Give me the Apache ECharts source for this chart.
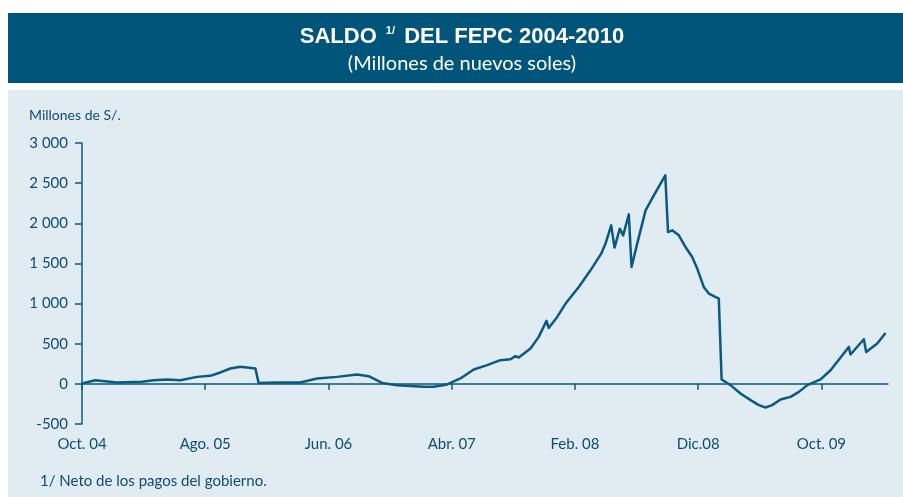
<!DOCTYPE html>
<html>
<head>
<meta charset="utf-8">
<script src="https://cdn.jsdelivr.net/npm/echarts@6/dist/echarts.min.js"></script>
<style>
html,body{margin:0;padding:0;background:#fff;}
#c{width:903px;height:497px;}
</style>
</head>
<body>
<div id="c"></div>
<script>
// months elapsed since Oct. 2004
var months = [0, 1.08, 2.84, 4.87, 5.81, 6.9, 7.98, 9.33, 10.41, 11.23,
  12.04, 12.85, 14.07, 14.33, 15.83, 17.72, 19.07, 20.7, 22.32, 23.26,
  24.35, 25.57, 27.73, 28.54, 29.63, 30.7, 31.79, 32.87, 33.95, 34.76,
  35.17, 35.44, 36.39, 37.06, 37.69, 37.87, 38.56, 39.24, 40.31, 41.26,
  42.13, 42.48, 42.94, 43.21, 43.64, 43.91, 44.37, 44.59, 45.05, 45.73,
  46.4, 47.33, 47.55, 47.89, 48.43, 48.97, 49.51, 49.92, 50.45, 50.86,
  51.67, 51.9, 52.62, 53.43, 54.25, 54.92, 55.46, 56, 56.68, 57.49,
  58.17, 58.85, 59.93, 60.74, 62.22, 62.36, 63.44, 63.63, 64.53, 65.2];
// saldo, millones de S/.
var saldo = [5, 46, 17, 25, 46, 55, 46, 87, 100, 142,
  191, 212, 191, 12, 17, 17, 67, 87, 117, 96,
  12, -16, -37, -37, -7, 67, 179, 233, 295, 307,
  345, 328, 440, 585, 784, 697, 834, 1000, 1207, 1414,
  1622, 1747, 1974, 1697, 1933, 1850, 2111, 1456, 1747, 2161,
  2347, 2596, 1891, 1912, 1850, 1704, 1580, 1436, 1207, 1125,
  1062, 55, -16, -120, -203, -265, -294, -265, -195, -162,
  -100, -16, 55, 170, 460, 366, 556, 398, 503, 634];
var tickLabels = ["Oct. 04", "Ago. 05", "Jun. 06", "Abr. 07", "Feb. 08", "Dic.08", "Oct. 09"];
var tickMonths = [0, 10, 20, 30, 40, 50, 60];

var TXT = '#0f4d6b';
var LINE = '#0a5a80';
var FONT = 'Lato, "Liberation Sans", sans-serif';

var data = months.map(function (m, i) { return [m, saldo[i]]; });

var chart = echarts.init(document.getElementById('c'), null, {renderer: 'canvas'});
chart.setOption({
  backgroundColor: '#ffffff',
  animation: false,
  graphic: [
    {type: 'rect', z: -10, shape: {x: 8, y: 13, width: 895, height: 70}, style: {fill: '#01557b'}},
    {type: 'rect', z: -10, shape: {x: 8, y: 90, width: 895, height: 407}, style: {fill: '#e1ebf2'}},
    {type: 'text', z: 100, x: 462, y: 37, style: {
      text: '{b|SALDO }{s|1/}{b| DEL FEPC 2004-2010}',
      align: 'center', verticalAlign: 'middle',
      rich: {
        b: {fontFamily: '"Liberation Sans", sans-serif', fontWeight: 'bold', fontSize: 22, fill: '#ffffff', lineHeight: 24},
        s: {fontFamily: '"Liberation Sans", sans-serif', fontWeight: 'bold', fontSize: 11, fill: '#ffffff', lineHeight: 24, verticalAlign: 'top', padding: [0, 3, 0, 3]}
      }
    }},
    {type: 'text', z: 100, x: 462, y: 64, style: {
      text: '(Millones de nuevos soles)', align: 'center', verticalAlign: 'middle',
      fontFamily: FONT, fontSize: 20, fill: '#ffffff'
    }},
    {type: 'text', z: 100, x: 29, y: 115, style: {
      text: 'Millones de S/.', align: 'left', verticalAlign: 'middle',
      fontFamily: FONT, fontSize: 14, fill: TXT
    }},
    {type: 'text', z: 100, x: 40, y: 481, style: {
      text: '1/ Neto de los pagos del gobierno.', align: 'left', verticalAlign: 'middle',
      fontFamily: FONT, fontSize: 15, fill: TXT
    }}
  ],
  grid: {left: 82, right: 15, top: 143, bottom: 73, containLabel: false},
  xAxis: [
    {
      type: 'value', min: 0, max: 65.4, position: 'bottom',
      axisLine: {show: true, onZero: true, lineStyle: {color: LINE, width: 1.5}},
      axisTick: {show: true, inside: false, length: 6, lineStyle: {color: LINE, width: 1.5}, customValues: tickMonths},
      axisLabel: {show: false},
      splitLine: {show: false}
    },
    {
      type: 'value', min: 0, max: 65.4, position: 'bottom',
      axisLine: {show: false, onZero: false},
      axisTick: {show: false},
      axisLabel: {
        show: true, margin: 13, customValues: tickMonths,
        fontFamily: FONT, fontSize: 15, color: TXT,
        formatter: function (v) { var i = tickMonths.indexOf(v); return i >= 0 ? tickLabels[i] : ''; }
      },
      splitLine: {show: false}
    }
  ],
  yAxis: {
    type: 'value', min: -500, max: 3000, interval: 500,
    axisLine: {show: true, lineStyle: {color: LINE, width: 1.5}},
    axisTick: {show: true, inside: false, length: 7, lineStyle: {color: LINE, width: 1.5}},
    axisLabel: {
      margin: 14, fontFamily: FONT, fontSize: 15, color: TXT,
      formatter: function (v) { return String(v).replace(/\B(?=(\d{3})+(?!\d))/g, ' '); }
    },
    splitLine: {show: false}
  },
  series: [{
    type: 'line', xAxisIndex: 0, data: data,
    showSymbol: false, smooth: false,
    lineStyle: {color: LINE, width: 2.5, join: 'round'}
  }]
});
</script>
</body>
</html>
